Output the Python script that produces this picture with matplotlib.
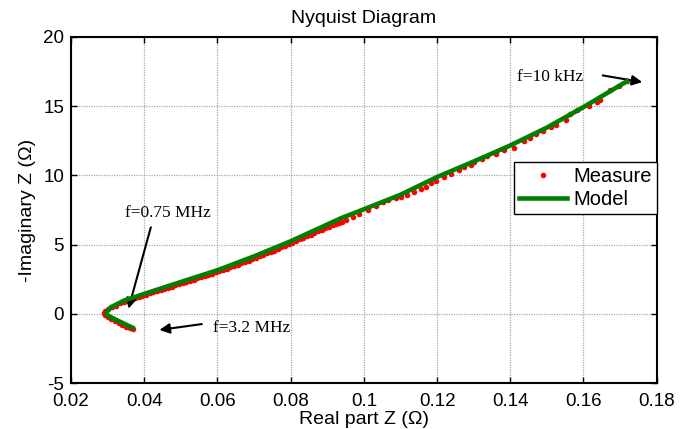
import matplotlib
matplotlib.use('Agg')
import matplotlib.pyplot as plt
import numpy as np

plt.rcParams['font.family'] = ['Liberation Sans', 'DejaVu Sans']
plt.rcParams['axes.unicode_minus'] = False

# model curve (real part, -imag part)
model_re = [0.0368, 0.0327, 0.0299, 0.0297, 0.0309, 0.0345, 0.040, 0.050, 0.060, 0.070,
            0.080, 0.0937, 0.100, 0.110, 0.120, 0.130, 0.140, 0.150, 0.160, 0.1719]
model_im = [-1.0, -0.48, -0.1, 0.1, 0.48, 0.96, 1.44, 2.3, 3.15, 4.15,
            5.24, 6.9, 7.55, 8.6, 9.88, 11.0, 12.16, 13.45, 14.93, 16.8]

# measured points
meas_re = [0.0370, 0.0360, 0.0350, 0.0340, 0.0330, 0.0320, 0.0310, 0.0301, 0.0294, 0.0291,
           0.0293, 0.0300, 0.0312, 0.0322, 0.0335,
           0.0345, 0.0355, 0.0365, 0.0375, 0.0385, 0.0395, 0.0405, 0.0415, 0.0425, 0.0435,
           0.0445, 0.0455, 0.0465, 0.0475, 0.0485, 0.0495, 0.0505, 0.0515, 0.0525, 0.0535,
           0.0545, 0.0555, 0.0565, 0.0575, 0.0585, 0.0595, 0.0605, 0.0615, 0.0625, 0.0635,
           0.0645, 0.0655, 0.0665, 0.0675, 0.0685, 0.0695, 0.0705, 0.0715, 0.0725, 0.0735,
           0.0745, 0.0755, 0.0765, 0.0775, 0.0785, 0.0795, 0.0805, 0.0815, 0.0825, 0.0835,
           0.0845, 0.0855, 0.0865, 0.0875, 0.0885, 0.0895, 0.0905, 0.0915, 0.0925, 0.0933,
           0.0940,
           0.0951, 0.0969, 0.0987, 0.1010, 0.1033, 0.1051, 0.1065, 0.1087, 0.1101, 0.1119,
           0.1137, 0.1155, 0.1169, 0.1183, 0.1196, 0.1219, 0.1237, 0.1260, 0.1274, 0.1292,
           0.1301, 0.1324, 0.1337, 0.1360, 0.1383, 0.1410, 0.1437, 0.1455, 0.1469, 0.1490,
           0.1510, 0.1524, 0.1551, 0.1564, 0.1583, 0.1614, 0.1637, 0.1646, 0.1672, 0.1696,
           0.1719]
meas_im = [-1.10, -1.02, -0.92, -0.80, -0.67, -0.55, -0.40, -0.25, -0.10, 0.05,
           0.20, 0.35, 0.50, 0.60, 0.76,
           0.85, 0.95, 1.05, 1.14, 1.22, 1.30, 1.38, 1.47, 1.55, 1.63,
           1.72, 1.80, 1.88, 1.97, 2.05, 2.13, 2.22, 2.31, 2.40, 2.48,
           2.56, 2.65, 2.74, 2.82, 2.90, 2.99, 3.08, 3.17, 3.27, 3.36,
           3.45, 3.54, 3.64, 3.74, 3.84, 3.94, 4.05, 4.15, 4.25, 4.36,
           4.47, 4.57, 4.68, 4.80, 4.92, 5.03, 5.15, 5.26, 5.38, 5.50,
           5.62, 5.73, 5.85, 5.96, 6.08, 6.19, 6.30, 6.40, 6.50, 6.57,
           6.64,
           6.75, 6.99, 7.24, 7.47, 7.76, 8.07, 8.20, 8.36, 8.43, 8.61,
           8.80, 8.99, 9.16, 9.44, 9.59, 9.88, 10.12, 10.36, 10.60, 10.77,
           10.96, 11.20, 11.39, 11.57, 11.85, 12.00, 12.47, 12.72, 12.96, 13.20,
           13.48, 13.61, 13.97, 14.45, 14.74, 15.00, 15.29, 15.46, 16.18, 16.49,
           16.80]

xticks = [0.02, 0.04, 0.06, 0.08, 0.1, 0.12, 0.14, 0.16, 0.18]
xlabels = ['0.02', '0.04', '0.06', '0.08', '0.1', '0.12', '0.14', '0.16', '0.18']
yticks = [-5, 0, 5, 10, 15, 20]

fig = plt.figure(figsize=(6.92, 4.29), dpi=100)
ax = fig.add_axes([0.1026, 0.107, 0.8464, 0.807])

ax.plot(meas_re, meas_im, 'o', color='#ff0000', markersize=4, markeredgewidth=0,
        label='Measure', zorder=3)
ax.plot(model_re, model_im, '-', color='#007f00', lw=3.3, label='Model', zorder=4)

ax.set_xlim(0.02, 0.18)
ax.set_ylim(-5, 20)
ax.set_xticks(xticks)
ax.set_xticklabels(xlabels)
ax.set_yticks(yticks)
ax.tick_params(direction='in', top=True, right=True, labelsize=13.5, length=4, width=1)
ax.tick_params(axis='x', pad=7)
ax.tick_params(axis='y', pad=5)
ax.grid(True, color='#a8a8a8', linestyle=(0, (1, 1)), lw=0.9)
for s in ax.spines.values():
    s.set_linewidth(1.5)

ax.set_title('Nyquist Diagram', fontsize=14, pad=10)
ax.set_xlabel('Real part Z (Ω)', fontsize=14, labelpad=0.5)
ax.set_ylabel('-Imaginary Z (Ω)', fontsize=14, labelpad=5)

leg = ax.legend(loc='upper right', bbox_to_anchor=(1.0, 0.64), fontsize=14.5,
                fancybox=False, framealpha=1, edgecolor='k', borderaxespad=0,
                handlelength=2.4, handletextpad=0.3, numpoints=1, borderpad=0.25,
                labelspacing=0.2)
leg.get_frame().set_linewidth(1.0)

ap = dict(arrowstyle='-|>', color='k', lw=1.5, mutation_scale=15)
tf = dict(family='Liberation Serif', fontsize=12.5)
ax.annotate('', xy=(0.1768, 16.7), xytext=(0.1645, 17.25), arrowprops=ap)
ax.text(0.1419, 17.1, 'f=10 kHz', va='center', ha='left', **tf)
ax.annotate('', xy=(0.0355, 0.18), xytext=(0.0420, 6.44), arrowprops=ap)
ax.text(0.0465, 7.3, 'f=0.75 MHz', va='center', ha='center', **tf)
ax.annotate('', xy=(0.0434, -1.19), xytext=(0.0565, -0.71), arrowprops=ap)
ax.text(0.0587, -1.0, 'f=3.2 MHz', va='center', ha='left', **tf)

fig.savefig('out.png', dpi=100)
